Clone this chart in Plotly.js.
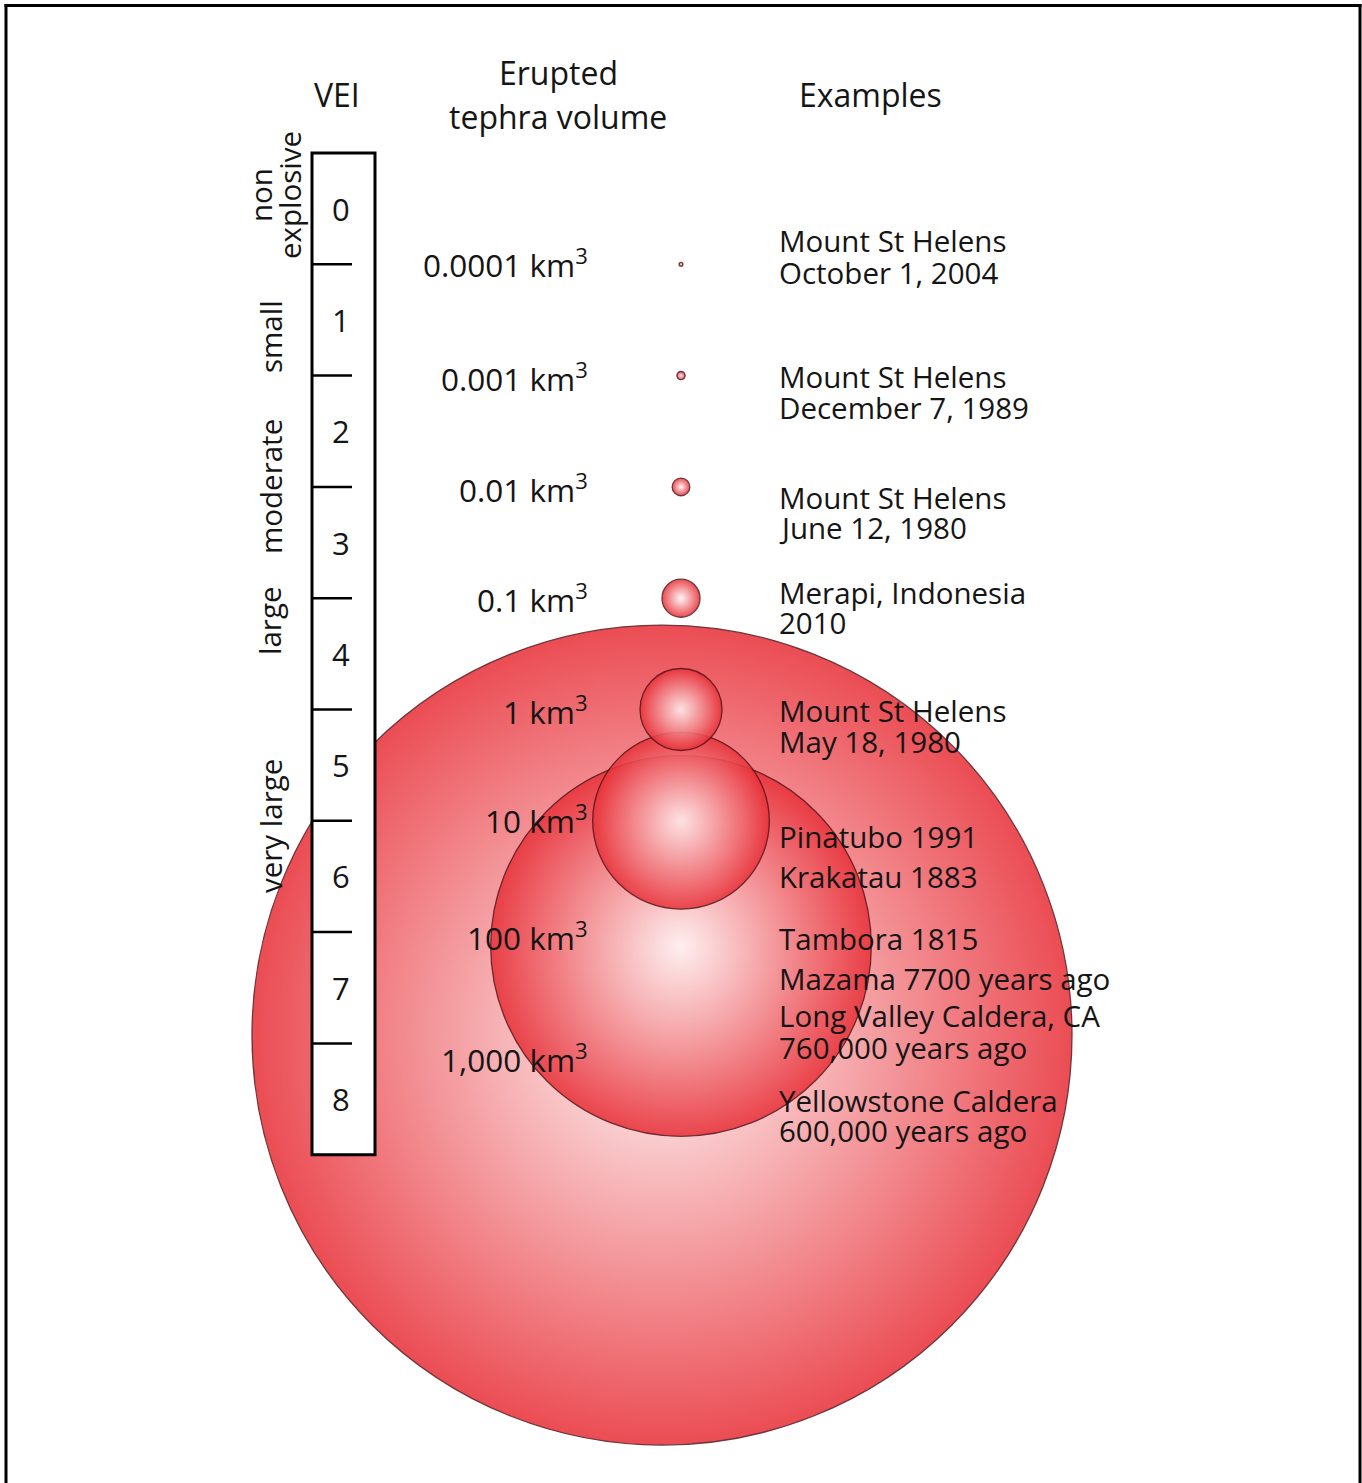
<!DOCTYPE html>
<html>
<head>
<meta charset="utf-8">
<script src="https://cdn.plot.ly/plotly-3.0.1.min.js"></script>
<style>html,body{margin:0;padding:0;background:#fff;}#chart{width:1362px;height:1483px;}</style>
</head>
<body>
<div id="chart"></div>
<script>
// ---------- data ----------
const volumes = [0.0001, 0.001, 0.01, 0.1, 1, 10, 100, 1000];            // km^3
const volumeLabels = ['0.0001 km<sup>3</sup>', '0.001 km<sup>3</sup>', '0.01 km<sup>3</sup>', '0.1 km<sup>3</sup>',
                      '1 km<sup>3</sup>', '10 km<sup>3</sup>', '100 km<sup>3</sup>', '1,000 km<sup>3</sup>'];
const veiClasses = [0, 1, 2, 3, 4, 5, 6, 7, 8];
const veiNames = ['non explosive', 'small', 'moderate', 'large', 'very large'];
const exampleLines = [
  'Mount St Helens', 'October 1, 2004',
  'Mount St Helens', 'December 7, 1989',
  'Mount St Helens', 'June 12, 1980',
  'Merapi, Indonesia', '2010',
  'Mount St Helens', 'May 18, 1980',
  'Pinatubo 1991',
  'Krakatau 1883',
  'Tambora 1815',
  'Mazama 7700 years ago',
  'Long Valley Caldera, CA', '760,000 years ago',
  'Yellowstone Caldera', '600,000 years ago'
];

// ---------- layout positions ----------
const bubbleLevel = [-4, -3, -2, -1, 0, 1, 2.125, 2.925];   // log10 position of bubble centres
const bubbleX =     [681, 681, 681, 681, 681, 681, 681, 662];
const labelPixY = [263, 377, 488, 598, 710, 819, 936, 1058];
const examplePixY = [241, 272, 377, 408, 497, 527, 592, 622, 710, 741, 836, 876, 938, 978, 1015, 1047, 1100, 1130];
const veiNamePos = [[261, 195, 'non'], [290, 195, 'explosive'], [270, 337, 'small'], [270, 487, 'moderate'], [270, 621, 'large'], [270, 826, 'very large']];

const W = 1362, H = 1483;
const Y0 = 709.5, UNIT = 111.3;   // pixel of log10(V)=0, pixels per decade
const px = x => x / W;
const py = y => 1 - y / H;
const FONT = 'Open Sans, Noto Sans, sans-serif';
const TXT = '#151515';
const FS = 29.5;

// bubbles, largest first so small ones sit on top
const order = volumes.map((v, i) => i).sort((a, b) => volumes[b] - volumes[a]);
const D1 = 82; // diameter (px) of 1 km^3 sphere
const trace = {
  type: 'scatter', mode: 'markers',
  x: order.map(i => bubbleX[i]),
  y: order.map(i => bubbleLevel[i]),
  text: order.map(i => volumeLabels[i]),
  hoverinfo: 'text',
  marker: {
    symbol: 'circle',
    size: order.map(i => D1 * Math.cbrt(volumes[i])),
    sizemode: 'diameter',
    color: 'rgb(232,48,56)',
    opacity: 0.86,
    gradient: {type: 'radial', color: 'rgb(255,244,244)'},
    line: {color: 'rgba(80,15,20,0.95)', width: 1.3}
  },
  cliponaxis: false,
  showlegend: false
};

const annotations = [];
const shapes = [];

// headers
const hdr = {family:FONT, size:32, color:TXT};
annotations.push({xref:'paper', yref:'paper', x:px(337), y:py(95), text:'VEI', showarrow:false, xanchor:'center', yanchor:'middle', font:hdr});
annotations.push({xref:'paper', yref:'paper', x:px(558), y:py(73), text:'Erupted', showarrow:false, xanchor:'center', yanchor:'middle', font:hdr});
annotations.push({xref:'paper', yref:'paper', x:px(558), y:py(117), text:'tephra volume', showarrow:false, xanchor:'center', yanchor:'middle', font:hdr});
annotations.push({xref:'paper', yref:'paper', x:px(870), y:py(95), text:'Examples', showarrow:false, xanchor:'center', yanchor:'middle', font:hdr});

// VEI box (above traces so it hides the large bubble)
const boxTop = -5, boxBot = 4;
shapes.push({type:'rect', layer:'above', xref:'paper', yref:'y', x0:px(312), x1:px(375), y0:boxTop, y1:boxBot,
  fillcolor:'#ffffff', line:{color:'#000', width:3}});
for (let k = 1; k < veiClasses.length; k++) {
  const lv = boxTop + k;
  shapes.push({type:'line', layer:'above', xref:'paper', yref:'y', x0:px(312), x1:px(352), y0:lv, y1:lv, line:{color:'#000', width:2.5}});
}
veiClasses.forEach((c, k) => {
  annotations.push({xref:'paper', yref:'y', x:px(341), y:boxTop + k + 0.5, text:String(c), showarrow:false, xanchor:'center', yanchor:'middle', font:{family:FONT, size:31, color:TXT}});
});

// VEI class names (rotated)
veiNamePos.forEach(p => {
  annotations.push({xref:'paper', yref:'paper', x:px(p[0]), y:py(p[1]), text:p[2], textangle:-90, showarrow:false, xanchor:'center', yanchor:'middle', font:{family:FONT, size:FS, color:TXT}});
});

// volume labels
volumeLabels.forEach((t, i) => {
  annotations.push({xref:'paper', yref:'paper', x:px(590), y:py(labelPixY[i]), text:t, showarrow:false, xanchor:'right', yanchor:'middle', font:{family:FONT, size:31.5, color:TXT}});
});

// examples
exampleLines.forEach((t, i) => {
  annotations.push({xref:'paper', yref:'paper', x:px(777), y:py(examplePixY[i]), text:t, showarrow:false, xanchor:'left', yanchor:'middle', font:{family:FONT, size:FS, color:TXT}});
});

// outer frame
shapes.push({type:'line', xref:'paper', yref:'paper', x0:px(6), x1:px(6), y0:py(4), y1:py(H + 5), line:{color:'#000', width:3}, layer:'above'});
shapes.push({type:'line', xref:'paper', yref:'paper', x0:px(4.5), x1:px(1361.5), y0:py(5.5), y1:py(5.5), line:{color:'#000', width:3}, layer:'above'});
shapes.push({type:'line', xref:'paper', yref:'paper', x0:px(1360), x1:px(1360), y0:py(4), y1:py(H + 5), line:{color:'#000', width:3}, layer:'above'});

const layout = {
  width: W, height: H,
  margin: {l:0, r:0, t:0, b:0, pad:0},
  paper_bgcolor: '#ffffff', plot_bgcolor: 'rgba(0,0,0,0)',
  showlegend: false,
  xaxis: {range:[0, W], visible:false, fixedrange:true},
  yaxis: {range:[(H - Y0) / UNIT, -Y0 / UNIT], visible:false, fixedrange:true},
  annotations: annotations,
  shapes: shapes,
  hovermode: false
};

Plotly.newPlot('chart', [trace], layout, {displayModeBar:false, staticPlot:true});
</script>
</body>
</html>
